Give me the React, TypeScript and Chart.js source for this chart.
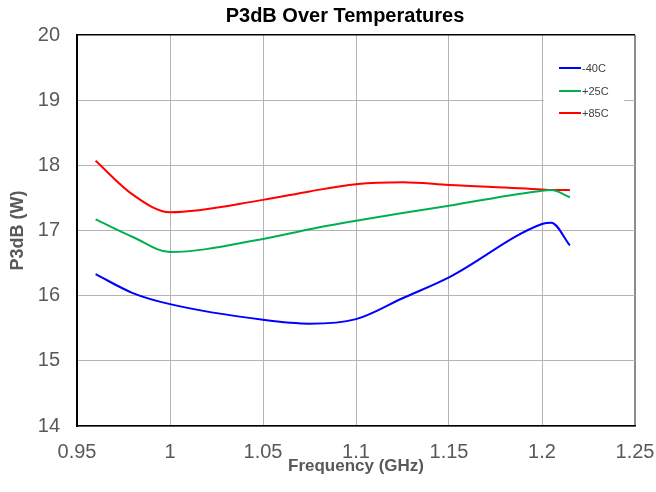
import React, { useEffect, useRef } from "react";
import { Chart, registerables } from "chart.js";

Chart.register(...registerables);

const freqGHz = [0.96, 0.98, 1.0, 1.05, 1.075, 1.1, 1.125, 1.15, 1.2, 1.205, 1.215];
const minus40C = [16.33, 16.04, 15.87, 15.63, 15.57, 15.64, 15.96, 16.28, 17.1, 17.12, 16.77];
const plus25C = [17.17, 16.9, 16.67, 16.87, 17.02, 17.15, 17.27, 17.38, 17.61, 17.62, 17.51];
const plus85C = [18.07, 17.55, 17.28, 17.47, 17.6, 17.71, 17.74, 17.7, 17.63, 17.62, 17.62];
const seriesLabels = ["-40C", "+25C", "+85C"];
const seriesColors = ["#0000ff", "#00b050", "#ff0000"];
const xTickValues = [0.95, 1.0, 1.05, 1.1, 1.15, 1.2, 1.25];
const chartTitle = "P3dB Over Temperatures";

const FONT = "'Liberation Sans', Arial, sans-serif";

const titlePlugin = {
  id: "customTitle",
  afterDraw(chart: any) {
    const ctx = chart.ctx;
    ctx.save();
    ctx.font = `bold 20px ${FONT}`;
    ctx.fillStyle = "#000000";
    ctx.textAlign = "center";
    ctx.textBaseline = "middle";
    ctx.fillText(chartTitle, 345, 16);
    ctx.restore();
  },
};

const legendPlugin = {
  id: "insideLegend",
  afterDatasetsDraw(chart: any) {
    const ctx = chart.ctx;
    ctx.save();
    ctx.fillStyle = "#ffffff";
    ctx.fillRect(544, 46, 80, 82);
    const rows = [68, 91, 113];
    chart.data.datasets.forEach((ds: any, i: number) => {
      const y = rows[i];
      ctx.strokeStyle = ds.borderColor;
      ctx.lineWidth = 2;
      ctx.beginPath();
      ctx.moveTo(559, y);
      ctx.lineTo(581, y);
      ctx.stroke();
      ctx.fillStyle = "#404040";
      ctx.font = `11px ${FONT}`;
      ctx.textAlign = "left";
      ctx.textBaseline = "middle";
      ctx.fillText(ds.label, 582, y + 0.5);
    });
    ctx.restore();
  },
};

export default function App() {
  const canvasRef = useRef<HTMLCanvasElement | null>(null);

  useEffect(() => {
    document.body.style.margin = "0";
    if (!canvasRef.current) return;
    const seriesValues = [minus40C, plus25C, plus85C];
    const chart = new Chart(canvasRef.current, {
      type: "line",
      data: {
        datasets: seriesValues.map((vals, i) => ({
          label: seriesLabels[i],
          data: freqGHz.map((f, j) => ({ x: f, y: vals[j] })),
          borderColor: seriesColors[i],
          backgroundColor: seriesColors[i],
          borderWidth: 2,
          pointRadius: 0,
          cubicInterpolationMode: "monotone" as const,
          fill: false,
        })),
      },
      options: {
        responsive: false,
        animation: false,
        layout: { padding: { left: 0, right: 21, top: 35, bottom: 0 } },
        plugins: {
          legend: { display: false },
          title: { display: false },
          tooltip: { enabled: false },
        },
        scales: {
          x: {
            type: "linear",
            min: 0.95,
            max: 1.25,
            afterBuildTicks: (scale: any) => {
              scale.ticks = xTickValues.map((v) => ({ value: v }));
            },
            afterFit: (scale: any) => {
              scale.height = 66;
              scale.paddingLeft = 0;
              scale.paddingRight = 0;
            },
            ticks: {
              color: "#595959",
              font: { family: FONT, size: 20 },
              padding: 14,
              maxRotation: 0,
              autoSkip: false,
              callback: (v: any) => String(Math.round(Number(v) * 100) / 100),
            },
            grid: {
              drawTicks: false,
              color: (c: any) => (c.tick && Math.abs(c.tick.value - 1.25) < 1e-6 ? "#8c8c8c" : "#b4b4b4"),
              lineWidth: (c: any) => (c.tick && Math.abs(c.tick.value - 1.25) < 1e-6 ? 2 : 1),
            },
            border: { color: "#000000", width: 1.5 },
            title: {
              display: true,
              text: "Frequency (GHz)",
              color: "#595959",
              font: { family: FONT, size: 17, weight: "bold" },
              padding: { top: 0, bottom: 15 },
            },
          },
          y: {
            type: "linear",
            min: 14,
            max: 20,
            afterFit: (scale: any) => {
              scale.width = 77;
              scale.paddingTop = 0;
              scale.paddingBottom = 0;
            },
            ticks: {
              stepSize: 1,
              color: "#595959",
              font: { family: FONT, size: 20 },
              padding: 17,
            },
            grid: {
              drawTicks: false,
              color: (c: any) => (c.tick && c.tick.value === 20 ? "#000000" : "#b4b4b4"),
              lineWidth: (c: any) => (c.tick && c.tick.value === 20 ? 1.5 : 1),
            },
            border: { color: "#000000", width: 2 },
            title: {
              display: true,
              text: "P3dB (W)",
              color: "#595959",
              font: { family: FONT, size: 18, weight: "bold" },
              padding: { top: 7, bottom: 0 },
            },
          },
        },
      },
      plugins: [titlePlugin, legendPlugin],
    });
    return () => chart.destroy();
  }, []);

  return (
    <div style={{ width: 656, height: 492 }}>
      <canvas ref={canvasRef} width={656} height={492} style={{ display: "block" }} />
    </div>
  );
}
